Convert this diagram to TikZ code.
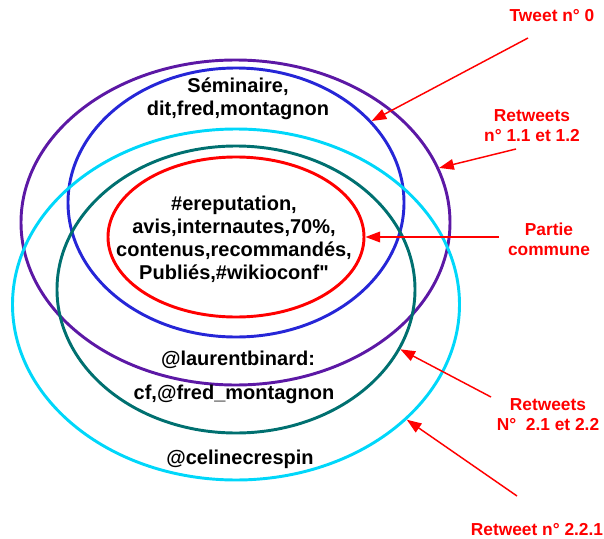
\documentclass[tikz,border=0pt]{standalone}
\usepackage{fontspec}
\setmainfont{Liberation Sans}
\newfontfamily\quotefont{Liberation Sans}[Ligatures=NoCommon]
\usetikzlibrary{arrows.meta,positioning,shapes.geometric}
\definecolor{ringviolet}{RGB}{92,24,165}
\definecolor{ringblue}{RGB}{38,38,215}
\definecolor{ringcyan}{RGB}{0,215,250}
\definecolor{ringteal}{RGB}{0,112,112}

\begin{document}
\begin{tikzpicture}[x=0.75pt,y=-0.75pt,
    ring/.style={draw,ellipse,line width=2.2pt,inner sep=0pt},
    words/.style={font=\fontsize{15}{17.25}\selectfont\bfseries,align=center,anchor=base,inner sep=0pt},
    note/.style={font=\fontsize{13}{15}\selectfont\bfseries,text=red,align=center,anchor=base,inner sep=0pt},
    ptr/.style={draw=red,line width=1.1pt,-{Triangle[length=11pt,width=8pt]}}]
  \useasboundingbox (0,0) rectangle (604,539);
  % the five tweets
  \node[ring,draw=ringviolet,minimum width=321.75pt,minimum height=243.75pt] (p) at (235.5,222.5) {};
  \node[ring,draw=ringblue,minimum width=252pt,minimum height=201.75pt] (b) at (236,202.5) {};
  \node[ring,draw=ringcyan,minimum width=335.25pt,minimum height=263.25pt] (cy) at (236,304.5) {};
  \node[ring,draw=ringteal,minimum width=268.5pt,minimum height=215.25pt] (t) at (236,289.5) {};
  \node[ring,draw=red,minimum width=192pt,minimum height=120pt] (r) at (236,237) {};
  % words (base = last line)
  \node[words] (sem) at (238,115.7) {Séminaire,\\dit,fred,montagnon};
  \node[words] (com) at (234,279) {\#ereputation,\\avis,internautes,70\%,\\contenus,recommandés,\\Publiés,\#wikioconf{\quotefont"}};
  \node[words] (lb) at (238,365) {@laurentbinard:};
  \node[words] (cf) at (234,399) {cf,@fred\_montagnon};
  \node[words] (cc) at (240,464) {@celinecrespin};
  % labels
  \node[note] (t0) at (552,21.7) {Tweet n° 0};
  \node[note] (r1) at (532,141.7) {Retweets\\n° 1.1 et 1.2};
  \node[note] (pc) at (549,255) {Partie\\commune};
  \node[note] (r2) at (548,430.7) {Retweets\\N°\ \ 2.1 et 2.2};
  \node[note] (r3) at (537,535) {Retweet n° 2.2.1};
  \coordinate (a0) at (528,38);
  \coordinate (a1) at (516,149);
  \coordinate (a2) at (499,237);
  \coordinate (a3) at (491,397);
  \coordinate (a4) at (517,496);
  \draw[ptr] (a0) -- (b.31.6);
  \draw[ptr] (a1) -- (p.15.7);
  \draw[ptr] (a2) -- (r.0);
  \draw[ptr] (a3) -- (t.-20.7);
  \draw[ptr] (a4) -- (cy.-34.4);
\end{tikzpicture}
\end{document}
